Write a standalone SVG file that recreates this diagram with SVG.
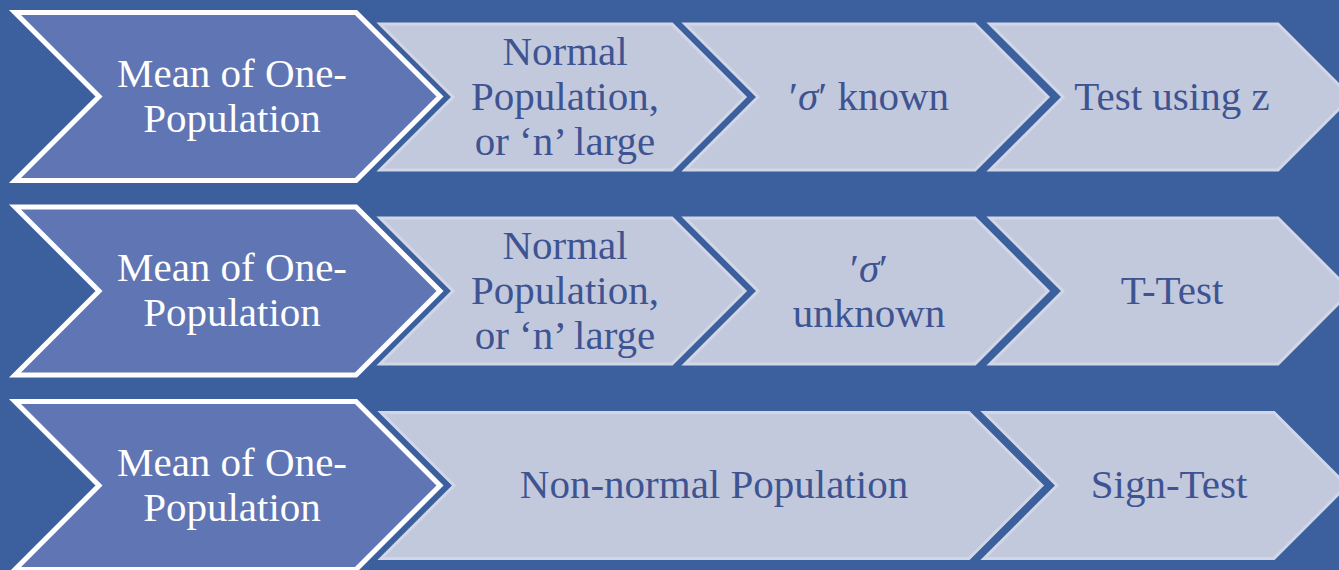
<svg xmlns="http://www.w3.org/2000/svg" width="1339" height="570" viewBox="0 0 1339 570" font-family="Liberation Serif, Times New Roman, serif">
<style>
.bg{fill:#3C5F9E}
.dark{fill:#6075B3;stroke:#FFFFFF;stroke-width:5;stroke-linejoin:miter}
.light{fill:#C3C9DD;stroke:#D2D7E8;stroke-width:3;stroke-linejoin:miter}
text{font-family:"Liberation Serif",serif}
.tw{font-size:41px;fill:#FFFFFF;text-anchor:middle}
.tl{font-size:41px;fill:#3E5492;text-anchor:middle}
.it{font-style:italic}
</style>
<rect class="bg" x="0" y="0" width="1339" height="570"/>
<g id="connectors"/>

<!-- Row 1 -->
<g id="r1-mean">
<polygon class="dark" points="15,12.5 356,12.5 440,96.5 356,180.5 15,180.5 99,96.5"/>
<text class="tw" x="232" y="87">Mean of One-</text>
<text class="tw" x="232" y="132">Population</text>
</g>
<g id="r1-normal">
<polygon class="light" points="380,24 672,24 745,97 672,170 380,170 453,97"/>
<text class="tl" x="565" y="65">Normal</text>
<text class="tl" x="565" y="110">Population,</text>
<text class="tl" x="565" y="155">or ‘n’ large</text>
</g>
<g id="r1-known">
<polygon class="light" points="685,24 975,24 1048,97 975,170 685,170 758,97"/>
<text class="tl" x="869" y="110">′<tspan class="it">σ</tspan>′ known</text>
</g>
<g id="r1-z">
<polygon class="light" points="990,24 1278,24 1351,97 1278,170 990,170 1063,97"/>
<text class="tl" x="1172" y="110">Test using z</text>
</g>

<!-- Row 2 -->
<g id="r2-mean">
<polygon class="dark" points="15,207 356,207 440,291 356,375 15,375 99,291"/>
<text class="tw" x="232" y="281">Mean of One-</text>
<text class="tw" x="232" y="326">Population</text>
</g>
<g id="r2-normal">
<polygon class="light" points="380,218 672,218 745,291 672,364 380,364 453,291"/>
<text class="tl" x="565" y="259">Normal</text>
<text class="tl" x="565" y="304">Population,</text>
<text class="tl" x="565" y="349">or ‘n’ large</text>
</g>
<g id="r2-unknown">
<polygon class="light" points="685,218 975,218 1048,291 975,364 685,364 758,291"/>
<text class="tl" x="869" y="282">′<tspan class="it">σ</tspan>′</text>
<text class="tl" x="869" y="327">unknown</text>
</g>
<g id="r2-ttest">
<polygon class="light" points="990,218 1278,218 1351,291 1278,364 990,364 1063,291"/>
<text class="tl" x="1172" y="304">T-Test</text>
</g>

<!-- Row 3 -->
<g id="r3-mean">
<polygon class="dark" points="15,401.5 356,401.5 440,485.5 356,569.5 15,569.5 99,485.5"/>
<text class="tw" x="232" y="476">Mean of One-</text>
<text class="tw" x="232" y="521">Population</text>
</g>
<g id="r3-nonnormal">
<polygon class="light" points="381,412.5 969,412.5 1042,485.5 969,558.5 381,558.5 454,485.5"/>
<text class="tl" x="714" y="498">Non-normal Population</text>
</g>
<g id="r3-sign">
<polygon class="light" points="984,412.5 1274,412.5 1347,485.5 1274,558.5 984,558.5 1057,485.5"/>
<text class="tl" x="1169" y="498">Sign-Test</text>
</g>
</svg>
